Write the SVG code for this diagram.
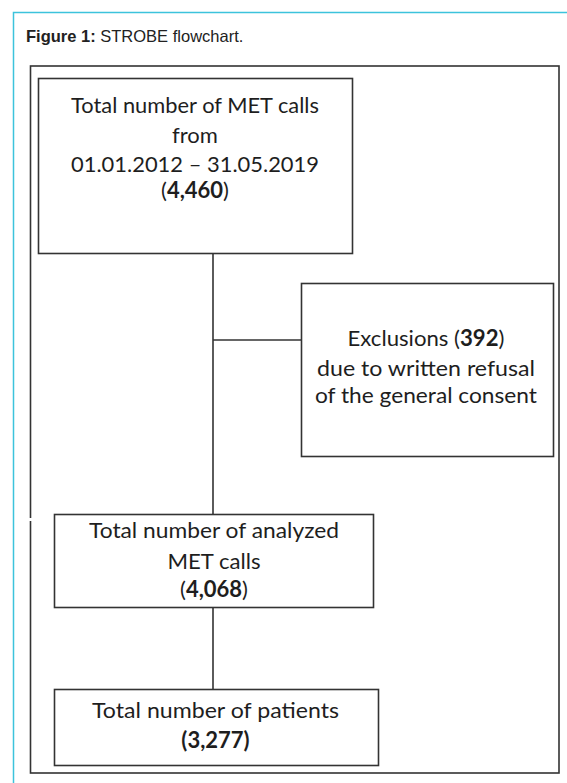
<svg xmlns="http://www.w3.org/2000/svg" width="567" height="783" viewBox="0 0 567 783">
<style>
.box{fill:#fff;stroke:#333;stroke-width:1.6}
.t{font-family:Lato,"Open Sans",sans-serif;font-size:22px;fill:#1e1e1e;text-anchor:middle}
.b{font-weight:bold}
.c{stroke:#333;stroke-width:1.6;fill:none}
</style>
<rect x="0" y="0" width="567" height="783" fill="#fff"/>
<path d="M13.5 800 V12.5 H580" fill="none" stroke="#3cc3dc" stroke-width="1.5"/>
<text x="26" y="42" font-family="Liberation Sans,Arial,sans-serif" font-size="16.5" fill="#222"><tspan font-weight="bold">Figure 1:</tspan> STROBE flowchart.</text>
<rect x="30.5" y="66" width="528.5" height="707" fill="none" stroke="#333" stroke-width="1.6"/>
<rect x="26" y="518" width="28" height="3" fill="#fff"/>
<g id="connectors">
<line class="c" x1="213" y1="253" x2="213" y2="514"/>
<line class="c" x1="213" y1="340" x2="301" y2="340"/>
<line class="c" x1="213" y1="608" x2="213" y2="689"/>
</g>
<g id="n1">
<rect class="box" x="38.5" y="78.5" width="314" height="175"/>
<text class="t" x="195" y="113" textLength="248" lengthAdjust="spacingAndGlyphs">Total number of MET calls</text>
<text class="t" x="195" y="143">from</text>
<text class="t" x="195" y="172" textLength="248" lengthAdjust="spacingAndGlyphs">01.01.2012 – 31.05.2019</text>
<text class="t" x="195" y="198">(<tspan class="b">4,460</tspan>)</text>
</g>
<g id="n2">
<rect class="box" x="301.5" y="283.5" width="252" height="173"/>
<text class="t" x="426" y="346" textLength="157" lengthAdjust="spacingAndGlyphs">Exclusions (<tspan class="b">392</tspan>)</text>
<text class="t" x="426" y="376" textLength="218" lengthAdjust="spacingAndGlyphs">due to written refusal</text>
<text class="t" x="426" y="403" textLength="222" lengthAdjust="spacingAndGlyphs">of the general consent</text>
</g>
<g id="n3">
<rect class="box" x="54.5" y="514.5" width="319" height="93"/>
<text class="t" x="214" y="538" textLength="250" lengthAdjust="spacingAndGlyphs">Total number of analyzed</text>
<text class="t" x="214" y="569" textLength="93" lengthAdjust="spacingAndGlyphs">MET calls</text>
<text class="t" x="214" y="597">(<tspan class="b">4,068</tspan>)</text>
</g>
<g id="n4">
<rect class="box" x="54.5" y="689.5" width="324" height="76"/>
<text class="t" x="215.5" y="718" textLength="247" lengthAdjust="spacingAndGlyphs">Total number of patients</text>
<text class="t b" x="215.5" y="748">(3,277)</text>
</g>
</svg>
